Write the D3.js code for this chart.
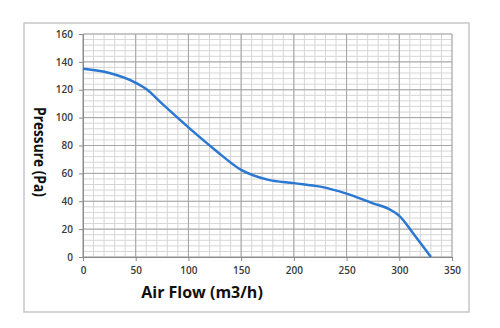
<!DOCTYPE html>
<html><head><meta charset="utf-8">
<script src="https://cdn.jsdelivr.net/npm/d3@7"></script>
<style>body{margin:0;background:#fff}svg{display:block}</style>
</head><body>
<svg id="c" width="500" height="328"></svg>
<script>
const flow = [0,25,50,60,75,100,125,150,175,200,225,250,275,290,300,315,330];
const pressure = [135,132,125,120.5,110,93,77,62.5,55.5,53,50.5,45.5,38.5,34.5,29.5,15,0];
const xTicks = [0,50,100,150,200,250,300,350];
const yTicks = [0,20,40,60,80,100,120,140,160];
const xTitle = "Air Flow (m3/h)";
const yTitle = "Pressure (Pa)";

const svg = d3.select("#c");
const L=83, R=452, T=34, B=257;
const x = d3.scaleLinear().domain([0,350]).range([L,R]);
const y = d3.scaleLinear().domain([0,160]).range([B,T]);

svg.append("rect").attr("x",24).attr("y",23).attr("width",445).attr("height",289)
  .attr("fill","#fff").attr("stroke","#c6c6c6").attr("stroke-width",1.5);

const g = svg.append("g");
g.selectAll(".mx").data(d3.range(0,351,10)).join("line")
  .attr("x1",d=>x(d)).attr("x2",d=>x(d)).attr("y1",T).attr("y2",B)
  .attr("stroke","#d6d6d6").attr("stroke-width",1);
g.selectAll(".my").data(d3.range(0,161,4)).join("line")
  .attr("y1",d=>y(d)).attr("y2",d=>y(d)).attr("x1",L).attr("x2",R)
  .attr("stroke","#d6d6d6").attr("stroke-width",1);
g.selectAll(".Mx").data(xTicks).join("line")
  .attr("x1",d=>x(d)).attr("x2",d=>x(d)).attr("y1",T).attr("y2",B)
  .attr("stroke","#a4a4a4");
g.selectAll(".My").data(yTicks).join("line")
  .attr("y1",d=>y(d)).attr("y2",d=>y(d)).attr("x1",L).attr("x2",R)
  .attr("stroke","#a4a4a4");

const xa = svg.append("g").attr("transform",`translate(0,${B})`)
  .call(d3.axisBottom(x).tickValues(xTicks).tickSize(4).tickPadding(6));
const ya = svg.append("g").attr("transform",`translate(${L},0)`)
  .call(d3.axisLeft(y).tickValues(yTicks).tickSize(4).tickPadding(6));
[xa,ya].forEach(a=>{
  a.selectAll("path,line").attr("stroke","#8a8a8a");
  a.selectAll("text").attr("font-family","Open Sans, Liberation Sans, Arial, sans-serif")
   .attr("font-size",10).attr("font-weight",600).attr("fill","#3a3a3a");
});

const line = d3.line().x((d,i)=>x(flow[i])).y(d=>y(d)).curve(d3.curveMonotoneX);
svg.append("path").attr("d",line(pressure)).attr("fill","none")
  .attr("stroke","#2b78d2").attr("stroke-width",2.5);

svg.append("text").attr("x",202).attr("y",298).attr("text-anchor","middle")
  .attr("font-family","Open Sans, DejaVu Sans, sans-serif").attr("font-weight","bold")
  .attr("font-size",16).attr("fill","#111").text(xTitle);
svg.append("text").attr("transform","translate(34,152) rotate(90)").attr("text-anchor","middle")
  .attr("font-family","Open Sans, DejaVu Sans, sans-serif").attr("font-weight","bold")
  .attr("font-size",15.5).attr("fill","#111")
  .attr("textLength",90).attr("lengthAdjust","spacingAndGlyphs").text(yTitle);
</script>
</body></html>
